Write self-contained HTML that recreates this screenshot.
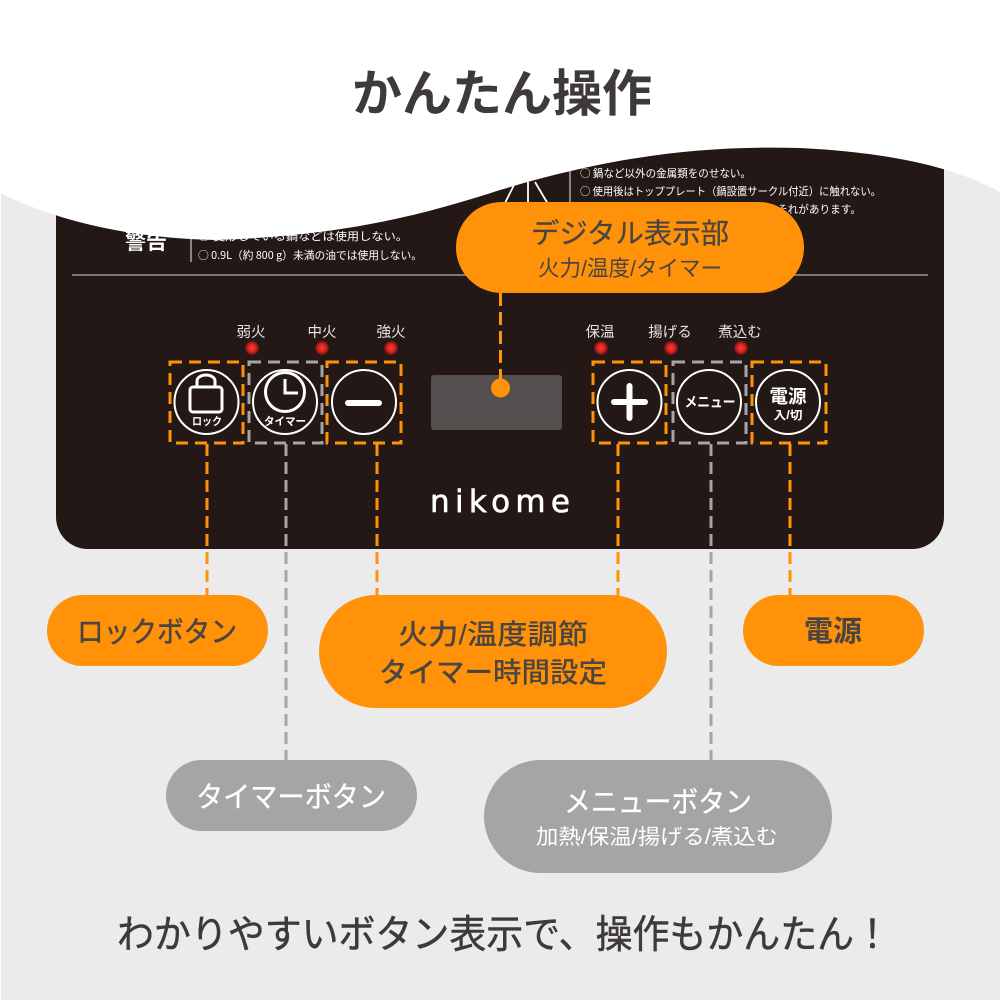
<!DOCTYPE html>
<html lang="ja"><head><meta charset="utf-8"><style>
html,body{margin:0;padding:0;background:#ebebeb}
svg{display:block}
text{font-family:"Liberation Sans","Noto Sans CJK JP",sans-serif}
.w text{font-family:"Noto Sans CJK JP","Liberation Sans",sans-serif}
</style></head><body>
<svg width="1000" height="1000" viewBox="0 0 1000 1000" xmlns="http://www.w3.org/2000/svg">
<defs><radialGradient id="led"><stop offset="0" stop-color="#f8443c"/><stop offset=".6" stop-color="#d4201c"/><stop offset="1" stop-color="#5a1512"/></radialGradient></defs>
<rect width="1000" height="1000" fill="#ebebeb"/>
<path d="M56 120H944V517a32 32 0 0 1-32 32H88a32 32 0 0 1-32-32Z" fill="#231815"/>
<!-- warning text -->
<g class="w" fill="#fff" font-size="11" lengthAdjust="spacingAndGlyphs">
<text x="580" y="177" textLength="171" lengthAdjust="spacingAndGlyphs">○ 鍋など以外の金属類をのせない。</text>
<text x="580" y="195" textLength="301" lengthAdjust="spacingAndGlyphs">○ 使用後はトッププレート（鍋設置サークル付近）に触れない。</text>
<text x="777" y="213" textLength="84" lengthAdjust="spacingAndGlyphs">それがあります。</text>
<text x="198" y="240" textLength="210" lengthAdjust="spacingAndGlyphs">○ 変形している鍋などは使用しない。</text>
<text x="198" y="259" textLength="224" lengthAdjust="spacingAndGlyphs">○ 0.9L（約 800 g）未満の油では使用しない。</text>
</g>
<text x="146" y="249" text-anchor="middle" fill="#fff" font-size="21" font-weight="700">警告</text>
<path d="M191 225V262M570 165V205" stroke="#ccc" stroke-width="1.2"/>
<path d="M505 203L515 183M528 182V205M535 182L548 204" stroke="#fff" stroke-width="1.8" fill="none"/>
<path d="M72 275H928" stroke="#b5b0ab" stroke-width="1.2"/>
<!-- white wave -->
<path d="M0 0H1000V192C960 170 900 153 800 148C690 145 600 160 500 190C420 216 340 236 215 240C130 238 60 222 0 193Z" fill="#fff"/>
<rect x="0" y="190" width="1" height="810" fill="#fff"/>
<text x="502" y="111" text-anchor="middle" fill="#3e3a39" font-size="50" font-weight="700" textLength="300" lengthAdjust="spacingAndGlyphs">かんたん操作</text>
<!-- LED labels -->
<g fill="#e8e6e4" font-size="14.5" text-anchor="middle">
<text x="251" y="337">弱火</text><text x="322" y="337">中火</text><text x="391" y="337">強火</text>
<text x="600" y="337">保温</text><text x="670" y="337">揚げる</text><text x="740" y="337">煮込む</text>
</g>
<g fill="url(#led)">
<circle cx="252" cy="348" r="7"/><circle cx="322" cy="348" r="7"/><circle cx="391" cy="348" r="7"/>
<circle cx="601" cy="348" r="7"/><circle cx="671" cy="348" r="7"/><circle cx="741" cy="348" r="7"/>
</g>
<!-- connectors -->
<g fill="none" stroke-width="3" stroke-dasharray="12 6">
<path d="M207 600V444M377 600V444M618 600V444M790 600V444" stroke="#ff9209"/>
<path d="M286 762V444M711 762V444" stroke="#a5a5a5"/>
</g>
<!-- dashed boxes -->
<g fill="none" stroke-width="3" stroke-dasharray="12 7">
<rect x="170" y="362" width="73" height="81" stroke="#ff9209"/>
<rect x="249" y="362" width="73" height="81" stroke="#a5a5a5"/>
<rect x="327" y="362" width="74" height="81" stroke="#ff9209"/>
<rect x="593" y="362" width="73" height="81" stroke="#ff9209"/>
<rect x="673" y="362" width="73" height="81" stroke="#a5a5a5"/>
<rect x="752" y="362" width="74" height="81" stroke="#ff9209"/>
</g>
<!-- buttons -->
<g fill="none" stroke="#fff" stroke-width="2">
<circle cx="206.500" cy="402" r="32"/><circle cx="285" cy="402" r="32"/><circle cx="364" cy="402" r="32"/>
<circle cx="629.500" cy="402" r="32"/><circle cx="709" cy="402" r="32"/><circle cx="788" cy="402" r="32"/>
</g>
<rect x="190" y="387" width="32" height="25" rx="3" fill="none" stroke="#fff" stroke-width="3"/>
<path d="M197 387V381a9 6 0 0 1 18 0V387" fill="none" stroke="#fff" stroke-width="3"/>
<circle cx="285" cy="392" r="19.500" fill="none" stroke="#fff" stroke-width="3"/>
<path d="M285 379V393H298" fill="none" stroke="#fff" stroke-width="3"/>
<path d="M348 403H379M614 402H645M629.500 386V418" stroke="#fff" stroke-width="6" stroke-linecap="round"/>
<g fill="#fff" font-weight="700" text-anchor="middle">
<text x="207" y="425" font-size="11" textLength="30" lengthAdjust="spacingAndGlyphs">ロック</text>
<text x="285" y="425" font-size="11" textLength="42" lengthAdjust="spacingAndGlyphs">タイマー</text>
<text x="710" y="407" font-size="14" textLength="51" lengthAdjust="spacingAndGlyphs">メニュー</text>
<text x="788" y="403" font-size="18.5" textLength="37" lengthAdjust="spacingAndGlyphs">電源</text>
<text x="788" y="419" font-size="11.5" textLength="29" lengthAdjust="spacingAndGlyphs">入/切</text>
</g>
<!-- display -->
<rect x="431" y="375" width="131" height="55" rx="3" fill="#524f4e"/>
<path d="M500.500 382V292" stroke="#ff9209" stroke-width="3" stroke-dasharray="13 6"/>
<circle cx="500.500" cy="388" r="9.500" fill="#ff9209"/>
<text x="500" y="512" text-anchor="middle" fill="#fff" stroke="#fff" stroke-width=".6" font-size="31" textLength="140" style="font-family:'DejaVu Sans',sans-serif">nikome</text>
<!-- pills -->
<rect x="456" y="202" width="348" height="91" rx="45.500" fill="#ff9209"/>
<rect x="47" y="595" width="221" height="71" rx="35.500" fill="#ff9209"/>
<rect x="319" y="595" width="348" height="113" rx="56.500" fill="#ff9209"/>
<rect x="743" y="595" width="181" height="71" rx="35.500" fill="#ff9209"/>
<rect x="166" y="760" width="251" height="71" rx="35.500" fill="#a5a5a5"/>
<rect x="484" y="760" width="348" height="113" rx="56.500" fill="#a5a5a5"/>
<g text-anchor="middle" fill="#4a4540">
<text x="630" y="243" font-size="28" textLength="198" lengthAdjust="spacingAndGlyphs" stroke="#4a4540" stroke-width=".3">デジタル表示部</text>
<text x="630" y="276" font-size="22" textLength="184" lengthAdjust="spacingAndGlyphs">火力/温度/タイマー</text>
<text x="157" y="642" font-size="29" textLength="160" lengthAdjust="spacingAndGlyphs" stroke="#4a4540" stroke-width=".5">ロックボタン</text>
<text x="493" y="644" font-size="28" font-weight="500" textLength="190" lengthAdjust="spacingAndGlyphs">火力/温度調節</text>
<text x="493" y="682" font-size="28" font-weight="500" textLength="228" lengthAdjust="spacingAndGlyphs">タイマー時間設定</text>
<text x="833" y="641" font-size="29" font-weight="700" textLength="58" lengthAdjust="spacingAndGlyphs">電源</text>
</g>
<g text-anchor="middle" fill="#fff">
<text x="291" y="807" font-size="29" textLength="190" lengthAdjust="spacingAndGlyphs" stroke="#fff" stroke-width=".3">タイマーボタン</text>
<text x="658" y="812" font-size="29" textLength="188" lengthAdjust="spacingAndGlyphs" stroke="#fff" stroke-width=".3">メニューボタン</text>
<text x="657" y="844" font-size="21" textLength="242" lengthAdjust="spacingAndGlyphs">加熱/保温/揚げる/煮込む</text>
</g>
<text x="504" y="948" text-anchor="middle" fill="#3e3a39" stroke="#3e3a39" stroke-width=".5" font-size="39" textLength="774" lengthAdjust="spacingAndGlyphs">わかりやすいボタン表示で、操作もかんたん！</text>
</svg>
</body></html>
